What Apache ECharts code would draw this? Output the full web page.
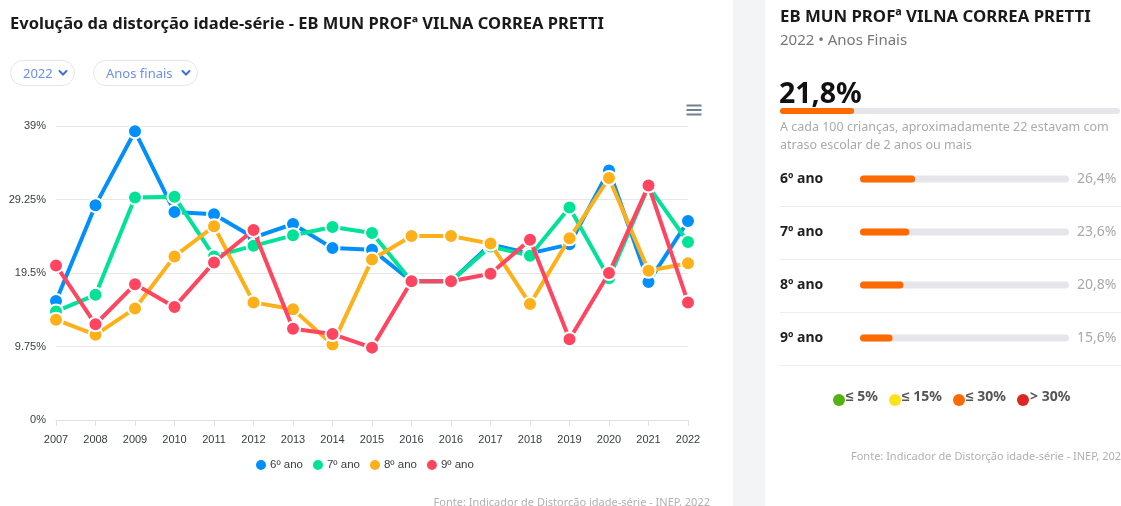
<!DOCTYPE html>
<html>
<head>
<meta charset="utf-8">
<script src="https://cdn.jsdelivr.net/npm/echarts@6/dist/echarts.min.js"></script>
<style>
  html, body { margin: 0; padding: 0; background: #fff; }
  body { width: 1121px; height: 506px; position: relative; overflow: hidden; font-family: 'Noto Sans', sans-serif; }
  #strip { position: absolute; left: 733px; top: 0; width: 32px; height: 506px; background: #f3f4f6; }
  #myEcharts { position: absolute; left: 0; top: 0; width: 1121px; height: 506px; }
  .sel { position: absolute; top: 60px; height: 24px; border: 1px solid #e6e6e6; border-radius: 13px;
         color: #6c8ff0; font-size: 13px; line-height: 24px; box-sizing: content-box; }
  .sel span { position: absolute; left: 12px; top: 0; }
  .sel svg { position: absolute; top: 8px; }
</style>
</head>
<body>
<div id="strip"></div>
<div id="myEcharts"></div>
<div class="sel" style="left:10px;width:63px;"><span>2022</span>
  <svg style="left:47px" width="10" height="8" viewBox="0 0 10 8"><path d="M1.5 2 L5 5.5 L8.5 2" stroke="#3d6fe0" stroke-width="2" fill="none" stroke-linecap="round"/></svg></div>
<div class="sel" style="left:93px;width:103px;"><span>Anos finais</span>
  <svg style="left:87px" width="10" height="8" viewBox="0 0 10 8"><path d="M1.5 2 L5 5.5 L8.5 2" stroke="#3d6fe0" stroke-width="2" fill="none" stroke-linecap="round"/></svg></div>
<script>
// dados do gráfico de evolução
var anos = ['2007', '2008', '2009', '2010', '2011', '2012', '2013', '2014', '2015', '2016', '2016', '2017', '2018', '2019', '2020', '2021', '2022'];
var ano6 = [15.8, 28.5, 38.3, 27.6, 27.3, 24.2, 26.0, 22.8, 22.6, 18.4, 18.4, 23.3, 22.1, 23.3, 33.1, 18.3, 26.4];
var ano7 = [14.4, 16.6, 29.5, 29.6, 21.7, 23.1, 24.5, 25.6, 24.8, 18.4, 18.4, 23.0, 21.8, 28.2, 18.8, 31.0, 23.6];
var ano8 = [13.3, 11.3, 14.8, 21.7, 25.7, 15.6, 14.7, 10.0, 21.3, 24.4, 24.4, 23.4, 15.4, 24.1, 32.1, 19.8, 20.8];
var ano9 = [20.5, 12.7, 18.0, 15.0, 20.9, 25.2, 12.1, 11.4, 9.6, 18.4, 18.4, 19.4, 23.9, 10.7, 19.5, 31.1, 15.6];
var nomesSeries = ['6º ano', '7º ano', '8º ano', '9º ano'];
var yTicks = [0, 9.75, 19.5, 29.25, 39];

// dados do painel (2022)
var totalAtual = 21.8;
var series2022 = [26.4, 23.6, 20.8, 15.6];
var faixas = ['≤ 5%', '≤ 15%', '≤ 30%', '> 30%'];
var coresFaixas = ['#52b312', '#fde21a', '#ff6a00', '#dc2626'];

var cores = ['#008ffb', '#00e396', '#feb019', '#ff4560'];
var fmt = function (v) { return v.toFixed(1).replace('.', ',') + '%'; };

var chartDom = document.getElementById('myEcharts');
var myChart = echarts.init(chartDom, null, { renderer: 'canvas' });

var linhas = [ano6, ano7, ano8, ano9];
var series = [];
linhas.forEach(function (d, idx) {
  series.push({
    name: nomesSeries[idx],
    type: 'line',
    xAxisIndex: 0,
    yAxisIndex: 0,
    data: d,
    symbol: 'circle',
    symbolSize: 14,
    lineStyle: { width: 4, color: cores[idx] },
    itemStyle: { color: cores[idx], borderColor: '#fff', borderWidth: 2 },
    emphasis: { disabled: true },
    z: 2 + idx
  });
});

// barras do painel direito
series.push({
  type: 'bar',
  xAxisIndex: 1,
  yAxisIndex: 1,
  data: series2022,
  barWidth: 7,
  showBackground: true,
  backgroundStyle: { color: '#e6e6ea', borderRadius: 4 },
  itemStyle: { color: '#ff6a00', borderRadius: 4 },
  silent: true
});
series.push({
  type: 'bar',
  xAxisIndex: 2,
  yAxisIndex: 3,
  data: [totalAtual],
  barWidth: 6,
  showBackground: true,
  backgroundStyle: { color: '#e6e6ea', borderRadius: 3 },
  itemStyle: { color: '#ff6a00', borderRadius: 3 },
  silent: true
});

var fontNunito = "'Noto Sans', sans-serif";
var graphic = [
  { type: 'text', left: 10, top: 16, style: { text: 'Evolução da distorção idade-série - EB MUN PROFª VILNA CORREA PRETTI', font: 'bold 16.5px ' + fontNunito, fill: '#1a1a1a' } },
  { type: 'text', right: 411, top: 497, style: { text: 'Fonte: Indicador de Distorção idade-série - INEP, 2022', font: '11px ' + fontNunito, fill: '#b0b0b0' } },
  // painel direito
  { type: 'text', left: 780, top: 9, style: { text: 'EB MUN PROFª VILNA CORREA PRETTI', font: 'bold 16.8px ' + fontNunito, fill: '#1a1a1a' } },
  { type: 'text', left: 780, top: 33, style: { text: '2022 • Anos Finais', font: '15px ' + fontNunito, fill: '#777' } },
  { type: 'text', left: 779, top: 80, style: { text: fmt(totalAtual), font: 'bold 28.5px ' + fontNunito, fill: '#111' } },
  { type: 'text', left: 780, top: 118, style: { text: 'A cada 100 crianças, aproximadamente ' + Math.round(totalAtual) + ' estavam com\natraso escolar de 2 anos ou mais', font: '12.5px ' + fontNunito, fill: '#aaa', lineHeight: 18 } },
  { type: 'text', left: 851, top: 451, style: { text: 'Fonte: Indicador de Distorção idade-série - INEP, 2022', font: '11px ' + fontNunito, fill: '#b0b0b0' } }
];
[206, 259, 312, 365].forEach(function (y) {
  graphic.push({ type: 'line', shape: { x1: 780, y1: y + 0.5, x2: 1121, y2: y + 0.5 }, style: { stroke: '#eeeeee', lineWidth: 1 } });
});
var legX = [839, 895, 959, 1023];
faixas.forEach(function (f, i) {
  graphic.push({ type: 'circle', shape: { cx: legX[i], cy: 400, r: 6 }, style: { fill: coresFaixas[i] } });
  graphic.push({ type: 'text', left: legX[i] + 7, top: 390, style: { text: f, font: 'bold 14px ' + fontNunito, fill: '#555' } });
});

var option = {
  animation: false,
  color: cores,
  textStyle: { fontFamily: "'Liberation Sans', Arial, sans-serif" },
  grid: [
    { left: 56, top: 126, width: 632, height: 294 },
    { left: 860, top: 152.5, width: 209, height: 212 },
    { left: 780, top: 108, width: 340, height: 6 }
  ],
  xAxis: [
    {
      type: 'category',
      gridIndex: 0,
      data: anos,
      boundaryGap: false,
      axisLine: { lineStyle: { color: '#e0e0e0', width: 1 } },
      axisTick: { show: true, length: 6, lineStyle: { color: '#e0e0e0' }, alignWithLabel: true },
      axisLabel: { interval: 0, color: '#373d3f', fontSize: 11, margin: 14 },
      splitLine: { show: false }
    },
    { type: 'value', gridIndex: 1, min: 0, max: 100, show: false },
    { type: 'value', gridIndex: 2, min: 0, max: 100, show: false }
  ],
  yAxis: [
    {
      type: 'value',
      gridIndex: 0,
      min: 0,
      max: 39,
      interval: 9.75,
      axisLine: { show: false },
      axisTick: { show: false },
      axisLabel: { color: '#373d3f', fontSize: 11, margin: 10, formatter: function (v) { return v + '%'; } },
      splitLine: { lineStyle: { color: '#e7e7e7' } }
    },
    {
      type: 'category',
      gridIndex: 1,
      inverse: true,
      data: nomesSeries,
      axisLine: { show: false },
      axisTick: { show: false },
      axisLabel: { align: 'left', margin: 80, color: '#1f1f1f', fontWeight: 'bold', fontSize: 14, fontFamily: fontNunito }
    },
    {
      type: 'category',
      gridIndex: 1,
      inverse: true,
      position: 'right',
      data: series2022.map(fmt),
      axisLine: { show: false },
      axisTick: { show: false },
      axisLabel: { align: 'left', margin: 8, color: '#a8a8a8', fontSize: 14, fontFamily: fontNunito }
    },
    { type: 'category', gridIndex: 2, data: ['total'], show: false }
  ],
  legend: {
    data: nomesSeries,
    left: 249,
    top: 453,
    icon: 'circle',
    itemWidth: 12,
    itemHeight: 12,
    itemGap: 8,
    textStyle: { color: '#373d3f', fontSize: 11.5, padding: [0, 0, 0, -2] }
  },
  toolbox: {
    right: 402,
    top: 88,
    itemSize: 15,
    feature: {
      myMenu: {
        title: 'Menu',
        icon: 'path://M0,2H20M0,8H20M0,14H20',
        onclick: function () {}
      }
    },
    iconStyle: { borderColor: '#6e8192', borderWidth: 2, color: 'none' }
  },
  graphic: graphic,
  series: series
};

option && myChart.setOption(option);

window.onresize = function () {
  myChart.resize();
};
</script>
</body>
</html>
